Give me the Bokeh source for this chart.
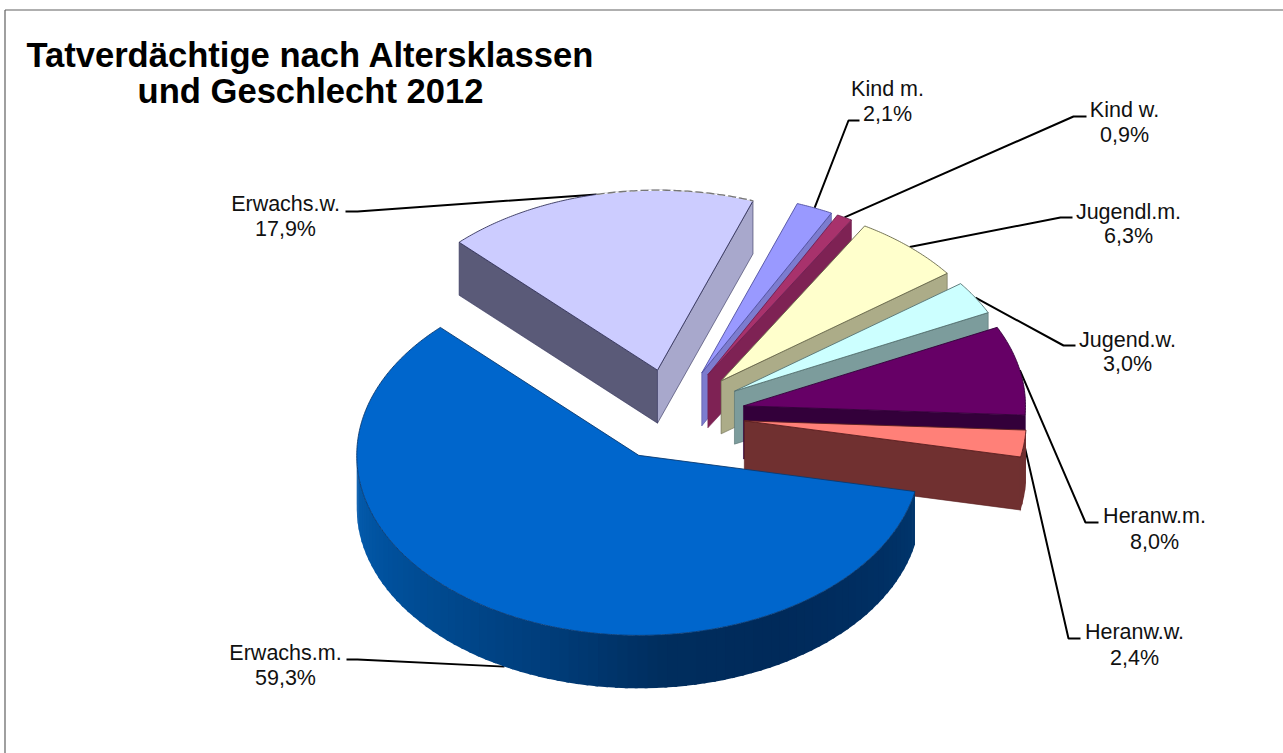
import numpy as np
from bokeh.plotting import figure
from bokeh.embed import file_html
from bokeh.resources import INLINE
from bokeh.core.properties import value

# ---- data ----
categories = ["Erwachs.m.", "Erwachs.w.", "Kind m.", "Kind w.", "Jugendl.m.", "Jugend.w.", "Heranw.m.", "Heranw.w."]
shares = [59.3, 17.9, 2.1, 0.9, 6.3, 3.0, 8.0, 2.4]
title_lines = ["Tatverdächtige nach Altersklassen", "und Geschlecht 2012"]

# ---- style ----
top_colors = ["#0066CC", "#CCCCFF", "#9999FF", "#A8326C", "#FFFFCC", "#CCFFFF", "#660066", "#FF8078"]
side_colors = ["#003F7F", "#5A5A78", "#7C7CCF", "#7E2254", "#ACAC88", "#7C9C9C", "#33003A", "#703030"]
side2_colors = ["#003F7F", "#A8A8CC", "#7C7CCF", "#7E2254", "#ACAC88", "#7C9C9C", "#33003A", "#703030"]
edge_colors = ["#0A3A70", "#33335A", "#5050A0", "#702050", "#66664A", "#557070", "#33003A", "#5A2020"]
paint_order = [1, 2, 3, 4, 5, 6, 7, 0]
label_pos = {  # centre x, y line 1, y line 2
    "Erwachs.m.": (285, 652, 677), "Erwachs.w.": (285, 203, 228), "Kind m.": (887, 88, 113),
    "Kind w.": (1124, 109, 134), "Jugendl.m.": (1128, 211, 235), "Jugend.w.": (1127, 339, 363),
    "Heranw.m.": (1154, 515, 541), "Heranw.w.": (1134, 631, 657),
}
leader_elbow = {  # tail end, elbow
    "Erwachs.m.": ((346, 659), (357, 659)), "Erwachs.w.": ((345, 211), (357, 211)),
    "Kind m.": ((859, 120), (848, 120)), "Kind w.": ((1086, 116), (1073, 116)),
    "Jugendl.m.": ((1072, 217), (1060, 217)), "Jugend.w.": ((1075, 345), (1063, 345)),
    "Heranw.m.": ((1098, 522), (1085, 522)), "Heranw.w.": ((1080, 638), (1068, 638)),
}
CX, CY, RX, RY, DEPTH, EXPLODE = 672.5, 414.5, 282.0, 180.0, 53.0, 0.255
START = 11.6
FONT = "Liberation Sans"
grad_phi = [0, 30, 60, 85, 110, 130, 150, 170, 190]
grad_r = [0, 0, 0, 0, 0, 0, 0, 4, 10]
grad_g = [58, 48, 42, 46, 62, 72, 80, 90, 95]
grad_b = [114, 100, 90, 94, 124, 140, 155, 170, 178]

W, H = 1283, 753
p = figure(width=W, height=H, x_range=(0, W), y_range=(H, 0), toolbar_location=None,
           output_backend="svg", min_border=0, background_fill_color="white",
           border_fill_color="white", outline_line_color=None)
p.axis.visible = False
p.grid.visible = False

# frame
p.line([4.5, 4.5], [9.5, H], line_color="#606060", line_width=1.2)
p.line([4.5, W], [9.5, 9.5], line_color="#606060", line_width=1.2)

sweep = np.array(shares) / sum(shares) * 360.0
starts = START + np.concatenate([[0], np.cumsum(sweep)[:-1]])
ends = starts + sweep
mids = (starts + ends) / 2


def pt(phi):
    a = np.radians(phi)
    return RX * np.cos(a), RY * np.sin(a)


apex = []
for m in mids:
    dx, dy = pt(m)
    apex.append((CX + EXPLODE * dx, CY + EXPLODE * dy))

# leaders go under the wedges
for i, name in enumerate(categories):
    dx, dy = pt(mids[i])
    ex, ey = apex[i][0] + dx, apex[i][1] + dy
    if np.sin(np.radians(mids[i])) > 0.5:
        ey += DEPTH
    tail, elbow = leader_elbow[name]
    p.line([tail[0], elbow[0], ex], [tail[1], elbow[1], ey], line_color="black", line_width=2)


def wall_visible(phi, mid):
    dx, dy = pt(phi)
    mx, my = pt(mid)
    nx, ny = -dy, dx
    if ny < 0:
        nx, ny = -nx, -ny
    return mx * nx + my * ny < 0


for i in paint_order:
    ax, ay = apex[i]
    a0, a1 = starts[i], ends[i]
    for phi, col in ((a0, side_colors[i]), (a1, side2_colors[i])):
        if wall_visible(phi, mids[i]):
            dx, dy = pt(phi)
            p.patch([ax, ax + dx, ax + dx, ax], [ay, ay + dy, ay + dy + DEPTH, ay + DEPTH],
                    fill_color=col, line_color=edge_colors[i], line_width=0.6)
    # outer wall (only the front half of the ellipse is seen)
    n = max(int((a1 - a0) / 2.0), 2)
    grid = np.linspace(a0, a1, n + 1)
    xs, ys, cols = [], [], []
    for g0, g1 in zip(grid[:-1], grid[1:]):
        gm = (g0 + g1) / 2
        if np.sin(np.radians(gm)) <= 0:
            continue
        x0, y0 = pt(g0)
        x1, y1 = pt(g1 + 0.6)
        xs.append([ax + x0, ax + x1, ax + x1, ax + x0])
        ys.append([ay + y0, ay + y1, ay + y1 + DEPTH, ay + y0 + DEPTH])
        if i == 0:
            r = np.interp(gm, grad_phi, grad_r)
            gg = np.interp(gm, grad_phi, grad_g)
            b = np.interp(gm, grad_phi, grad_b)
            cols.append("#%02x%02x%02x" % (int(r), int(gg), int(b)))
        else:
            cols.append(side_colors[i])
    if xs:
        p.patches(xs, ys, fill_color=cols, line_color=None)
    # top face
    arc = np.linspace(a0, a1, int((a1 - a0) * 2) + 3)
    px, py = pt(arc)
    p.patch(np.r_[ax, ax + px], np.r_[ay, ay + py], fill_color=top_colors[i],
            line_color=edge_colors[i], line_width=0.9)
    if i == 1:  # the far half of this rim is drawn broken and grey
        half = np.linspace(mids[i], a1, 60)
        hx, hy = pt(half)
        p.line(ax + hx, ay + hy, line_color="white", line_width=1.4)
        p.line(ax + hx, ay + hy, line_color="#777777", line_width=1.3, line_dash="8 3")

# labels
for name, sh in zip(categories, shares):
    xc, y1, y2 = label_pos[name]
    p.text([xc], [y1], text=[name], text_font=value(FONT), text_font_size="21.5px", text_color="#111111",
           text_align="center", text_baseline="middle")
    p.text([xc], [y2], text=[f"{sh:.1f}%".replace(".", ",")], text_font=value(FONT), text_font_size="21.5px",
           text_color="#111111", text_align="center", text_baseline="middle")

# title
p.text([310, 310], [54, 90], text=title_lines, text_font=value(FONT), text_font_size="34.6px",
       text_font_style="bold", text_color="black", text_align="center", text_baseline="middle")

open("out.html", "w").write(file_html(p, INLINE))
